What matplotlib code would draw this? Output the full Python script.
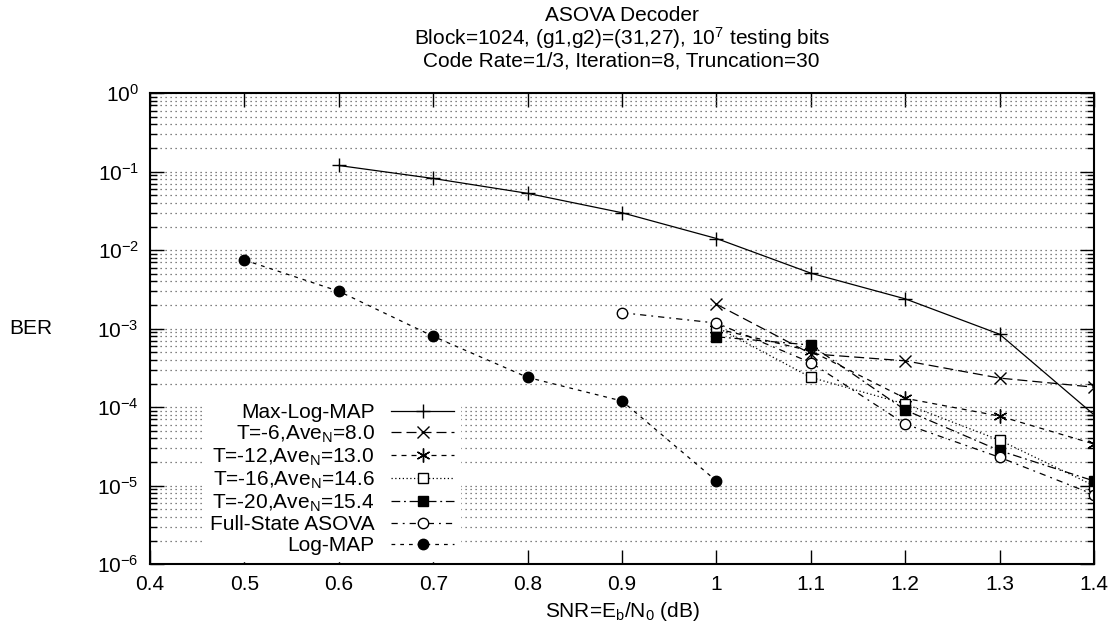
import numpy as np
import matplotlib.pyplot as plt
from matplotlib.ticker import LogLocator, LogFormatterSciNotation, NullFormatter

plt.rcParams['font.family'] = ['Liberation Sans', 'DejaVu Sans']
plt.rcParams['mathtext.fontset'] = 'custom'
plt.rcParams['mathtext.rm'] = 'Liberation Sans'
plt.rcParams['mathtext.it'] = 'Liberation Sans:italic'
plt.rcParams['axes.unicode_minus'] = False

# data
snr_maxlog = [0.6, 0.7, 0.8, 0.9, 1.0, 1.1, 1.2, 1.3, 1.4]
ber_maxlog = [0.12, 0.082, 0.053, 0.030, 0.0141, 0.0051, 0.0024, 0.00085, 0.00008]

snr_asova = [1.0, 1.1, 1.2, 1.3, 1.4]
ber_t6 = [2.05e-3, 4.8e-4, 3.9e-4, 2.35e-4, 1.8e-4]
ber_t12 = [1.0e-3, 5.2e-4, 1.3e-4, 7.7e-5, 3.4e-5]
ber_t16 = [1.05e-3, 2.4e-4, 1.1e-4, 3.8e-5, 1.0e-5]
ber_t20 = [7.9e-4, 6.2e-4, 9.2e-5, 2.8e-5, 1.15e-5]

snr_full = [0.9, 1.0, 1.1, 1.2, 1.3, 1.4]
ber_full = [1.6e-3, 1.18e-3, 3.7e-4, 6.1e-5, 2.3e-5, 7.7e-6]

snr_logmap = [0.5, 0.6, 0.7, 0.8, 0.9, 1.0]
ber_logmap = [7.5e-3, 3.0e-3, 8.0e-4, 2.4e-4, 1.2e-4, 1.15e-5]

xticks = [0.4, 0.5, 0.6, 0.7, 0.8, 0.9, 1.0, 1.1, 1.2, 1.3, 1.4]
xticklabels = ['0.4', '0.5', '0.6', '0.7', '0.8', '0.9', '1', '1.1', '1.2', '1.3', '1.4']

FS = 15
fig = plt.figure(figsize=(11.16, 6.34), dpi=100)
ax = fig.add_axes([0.1344, 0.110, 0.8460, 0.743])

lw = 0.9
ax.plot(snr_maxlog, ber_maxlog, color='k', lw=lw, ls='-', marker='+', ms=10,
        mew=1.0, label='Max-Log-MAP')
ax.plot(snr_asova, ber_t6, color='k', lw=lw, ls=(0, (8, 4)), marker='x', ms=8,
        mew=1.0, label=r'T=-6,Ave$_\mathregular{N}$=8.0')
ax.plot(snr_asova, ber_t12, color='k', lw=lw, ls=(0, (4, 4)), marker=(6, 2, 0), ms=10,
        mew=1.0, label=r'T=-12,Ave$_\mathregular{N}$=13.0')
ax.plot(snr_asova, ber_t16, color='k', lw=lw, ls=(0, (1, 2)), marker='s', ms=7,
        mfc='white', mew=1.0, label=r'T=-16,Ave$_\mathregular{N}$=14.6')
ax.plot(snr_asova, ber_t20, color='k', lw=lw, ls=(0, (7, 3, 1.5, 3)), marker='s', ms=7,
        mfc='k', mew=1.0, label=r'T=-20,Ave$_\mathregular{N}$=15.4')
ax.plot(snr_full, ber_full, color='k', lw=lw, ls=(0, (5, 4, 1.5, 4)), marker='o', ms=7.5,
        mfc='white', mew=1.0, label='Full-State ASOVA')
ax.plot(snr_logmap, ber_logmap, color='k', lw=lw, ls=(0, (3, 4)), marker='o', ms=7.5,
        mfc='k', mew=1.0, label='Log-MAP')

ax.set_yscale('log')
ax.set_xlim(0.4, 1.4)
ax.set_ylim(1e-6, 1)
ax.set_xticks(xticks)
ax.set_xticklabels(xticklabels)
ax.yaxis.set_major_locator(LogLocator(base=10, numticks=10))
ax.yaxis.set_major_formatter(LogFormatterSciNotation())
ax.yaxis.set_minor_locator(LogLocator(base=10, subs=np.arange(2, 10), numticks=100))
ax.yaxis.set_minor_formatter(NullFormatter())

ax.tick_params(axis='both', which='major', direction='in', length=10, width=1.0,
               top=True, right=True, labelsize=FS, pad=8)
ax.tick_params(axis='y', which='minor', direction='in', length=5, width=1.0, right=True)
for s in ax.spines.values():
    s.set_linewidth(1.5)

ax.grid(True, axis='y', which='both', color='0.35', ls=(0, (1, 3)), lw=0.9)
ax.set_axisbelow(True)

ax.set_xlabel(r'SNR=E$_\mathregular{b}$/N$_\mathregular{0}$ (dB)', fontsize=FS, labelpad=4)
ax.set_ylabel('BER', fontsize=FS, rotation=0, labelpad=48, va='center')

fig.text(0.557, 0.99, 'ASOVA Decoder\n'
         r'Block=1024, (g1,g2)=(31,27), 10$^\mathregular{7}$ testing bits' '\n'
         'Code Rate=1/3, Iteration=8, Truncation=30',
         ha='center', va='top', fontsize=FS, linespacing=1.0)

leg = ax.legend(loc='lower left', bbox_to_anchor=(0.046, -0.016), markerfirst=False,
                fontsize=FS, handlelength=3.0, handletextpad=0.8, labelspacing=0.08,
                borderpad=0.3, frameon=True, fancybox=False)
leg.get_frame().set_edgecolor('white')
leg.get_frame().set_facecolor('white')
leg.get_frame().set_alpha(1)

fig.savefig('out.png', dpi=100)
